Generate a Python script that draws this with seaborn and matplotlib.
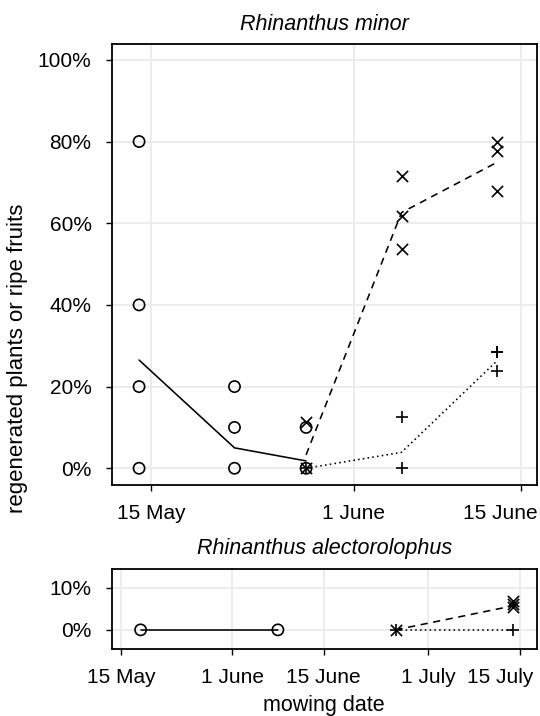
import pandas as pd
import matplotlib
matplotlib.use("Agg")
import matplotlib.pyplot as plt
import matplotlib.transforms as mtransforms
from matplotlib.ticker import PercentFormatter
import seaborn as sns

sns.set_theme(style="whitegrid")
plt.rcParams["font.family"] = ["Liberation Sans", "DejaVu Sans"]
plt.rcParams.update({"text.color": "black", "axes.labelcolor": "black",
                     "xtick.color": "black", "ytick.color": "black"})

# ---------------- donnees : Rhinanthus minor ----------------
rm_o_dates = ["2016-05-14"] * 4 + ["2016-05-22"] * 3 + ["2016-05-28"] * 2
rm_o_vals = [0.80, 0.40, 0.20, 0.0, 0.20, 0.10, 0.0, 0.10, 0.0]
rm_o_line_dates = ["2016-05-14", "2016-05-22", "2016-05-28"]
rm_o_line_vals = [0.265, 0.05, 0.018]

rm_x_dates = ["2016-05-28"] * 2 + ["2016-06-05"] * 3 + ["2016-06-13"] * 3
rm_x_vals = [0.114, 0.0, 0.715, 0.618, 0.538, 0.80, 0.776, 0.678]
rm_x_line_dates = ["2016-05-28", "2016-06-05", "2016-06-13"]
rm_x_line_vals = [0.033, 0.626, 0.749]

rm_p_dates = ["2016-05-28"] + ["2016-06-05"] * 2 + ["2016-06-13"] * 3
rm_p_vals = [0.0, 0.126, 0.0, 0.284, 0.284, 0.237]
rm_p_line_dates = ["2016-05-28", "2016-06-05", "2016-06-13"]
rm_p_line_vals = [0.0, 0.039, 0.263]

# ---------------- donnees : Rhinanthus alectorolophus ----------------
ra_o_dates = ["2016-05-18", "2016-06-08"]
ra_o_vals = [0.0, 0.0]
ra_o_line_vals = [0.0, 0.0]

ra_x_dates = ["2016-06-26", "2016-07-14", "2016-07-14", "2016-07-14"]
ra_x_vals = [0.0, 0.069, 0.061, 0.053]
ra_x_line_dates = ["2016-06-26", "2016-07-14"]
ra_x_line_vals = [0.0, 0.057]

ra_p_dates = ["2016-06-26", "2016-07-14"]
ra_p_vals = [0.0, 0.0]
ra_p_line_vals = [0.0, 0.0]

top_ticks = ["2016-05-15", "2016-06-01", "2016-06-15"]
top_ticklabels = ["15 May", "1 June", "15 June"]
bot_ticks = ["2016-05-15", "2016-06-01", "2016-06-15", "2016-07-01", "2016-07-15"]
bot_ticklabels = ["15 May", "1 June", "15 June", "1 July", "15 July"]

D = pd.to_datetime


def points(ax, dates, vals, marker):
    kw = dict(marker=marker, s=65, color="black", linewidth=1.2, ax=ax, zorder=3)
    if marker == "o":
        kw.update(facecolor="none", edgecolor="black")
    sns.scatterplot(x=D(dates), y=vals, **kw)


def ligne(ax, dates, vals, ls):
    sns.lineplot(x=D(dates), y=vals, color="black", linestyle=ls,
                 linewidth=1.15, ax=ax, zorder=2)


def habiller(ax, ticks, labels, xlim, ylim, yticks):
    ax.set_xticks(D(ticks))
    ax.set_xticklabels(labels)
    ax.set_xlim(D(xlim[0]), D(xlim[1]))
    ax.set_ylim(*ylim)
    ax.set_yticks(yticks)
    ax.yaxis.set_major_formatter(PercentFormatter(1.0, decimals=0))
    ax.grid(True, color="#EBEBEB", linewidth=1.3)
    for sp in ax.spines.values():
        sp.set_color("black")
        sp.set_linewidth(1.3)
    ax.tick_params(axis="both", which="major", direction="out", length=4.5,
                   width=1.0, color="black", labelsize=15, pad=9,
                   bottom=True, left=True)
    ax.tick_params(axis="y", pad=10)
    ax.set_xlabel("")
    ax.set_ylabel("")
    # le dernier label est ramene a l'interieur de la figure (comme R)
    last = ax.get_xticklabels()[-1]
    last.set_transform(last.get_transform() +
                       mtransforms.ScaledTranslation(-0.2, 0, fig.dpi_scale_trans))


fig = plt.figure(figsize=(5.4, 7.16), dpi=100)
ax1 = fig.add_axes([0.2069, 0.3226, 0.7870, 0.6155])
ax2 = fig.add_axes([0.2069, 0.0932, 0.7870, 0.1117])

# panneau du haut
ligne(ax1, rm_o_line_dates, rm_o_line_vals, "-")
ligne(ax1, rm_x_line_dates, rm_x_line_vals, (0, (4.5, 3.5)))
ligne(ax1, rm_p_line_dates, rm_p_line_vals, (0, (1, 2)))
points(ax1, rm_o_dates, rm_o_vals, "o")
points(ax1, rm_x_dates, rm_x_vals, "x")
points(ax1, rm_p_dates, rm_p_vals, "+")
habiller(ax1, top_ticks, top_ticklabels,
         ("2016-05-11 17:00", "2016-06-16 08:00"), (-0.041, 1.038),
         [0, 0.2, 0.4, 0.6, 0.8, 1.0])
ax1.set_title("Rhinanthus minor", style="italic", fontsize=15.5, pad=10)

# panneau du bas
ligne(ax2, ra_o_dates, ra_o_line_vals, "-")
ligne(ax2, ra_x_line_dates, ra_x_line_vals, (0, (4.5, 3.5)))
ligne(ax2, ra_p_dates, ra_p_line_vals, (0, (1, 2)))
points(ax2, ra_o_dates, ra_o_vals, "o")
points(ax2, ra_x_dates, ra_x_vals, "x")
points(ax2, ra_p_dates, ra_p_vals, "+")
habiller(ax2, bot_ticks, bot_ticklabels,
         ("2016-05-13 14:00", "2016-07-17 14:00"), (-0.046, 0.1435),
         [0, 0.1])
ax2.set_title("Rhinanthus alectorolophus", style="italic", fontsize=15.5, pad=11)
ax2.set_xlabel("mowing date", fontsize=15.5, labelpad=6)

fig.text(0.032, 0.50, "regenerated plants or ripe fruits", rotation=90,
         ha="center", va="center", fontsize=16)

fig.savefig("out.png", dpi=100)
